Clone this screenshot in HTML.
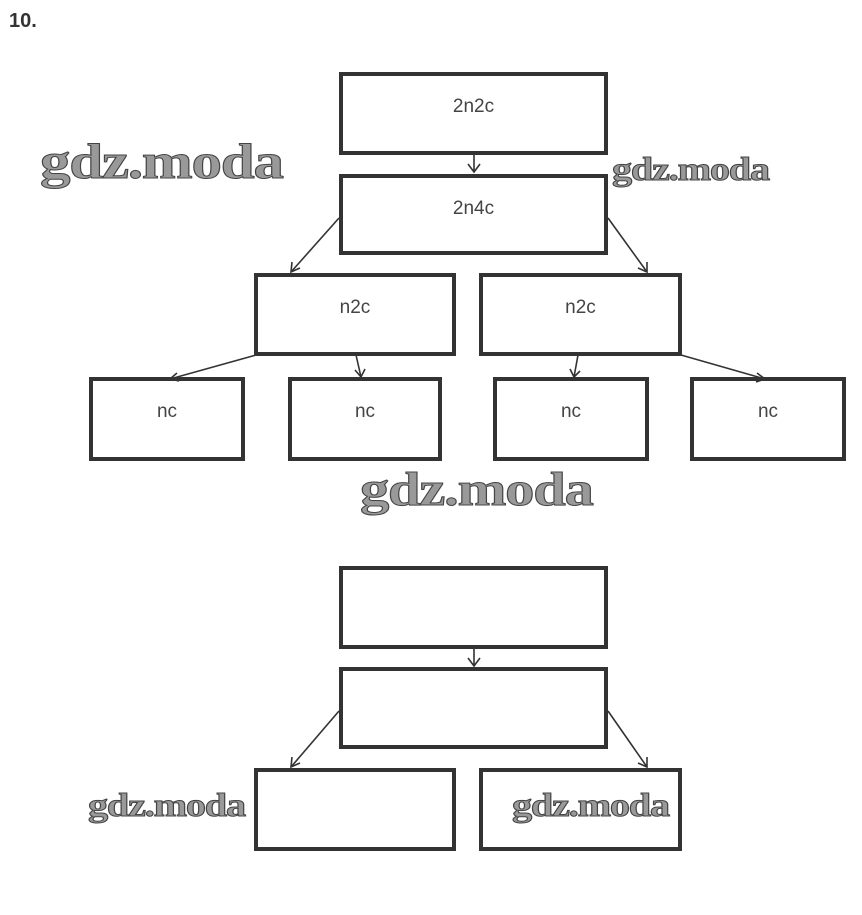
<!DOCTYPE html>
<html><head><meta charset="utf-8"><style>
body{margin:0;width:862px;height:915px;background:#fff;position:relative;overflow:hidden;font-family:"Liberation Sans",sans-serif}
.b{position:absolute;border:4px solid #333;box-sizing:border-box;text-align:center;color:#444;font-size:19px;padding-top:20px}
.w{position:absolute;font-family:"Liberation Serif",serif;font-weight:bold;color:#999;-webkit-text-stroke:1px #444;letter-spacing:-1px;white-space:nowrap;transform-origin:0 0;transform:scaleX(1.22)}
</style></head><body>
<div style="position:absolute;left:9px;top:10px;font-weight:bold;font-size:20px;color:#333">10.</div>
<div class="b" style="left:339px;top:72px;width:269px;height:83px">2n2c</div>
<div class="b" style="left:339px;top:174px;width:269px;height:81px">2n4c</div>
<div class="b" style="left:254px;top:273px;width:202px;height:83px">n2c</div>
<div class="b" style="left:479px;top:273px;width:203px;height:83px">n2c</div>
<div class="b" style="left:89px;top:377px;width:156px;height:84px">nc</div>
<div class="b" style="left:288px;top:377px;width:154px;height:84px">nc</div>
<div class="b" style="left:493px;top:377px;width:156px;height:84px">nc</div>
<div class="b" style="left:690px;top:377px;width:156px;height:84px">nc</div>
<div class="b" style="left:339px;top:566px;width:269px;height:83px"></div>
<div class="b" style="left:339px;top:667px;width:269px;height:82px"></div>
<div class="b" style="left:254px;top:768px;width:202px;height:83px"></div>
<div class="b" style="left:479px;top:768px;width:203px;height:83px"></div>
<svg width="862" height="915" style="position:absolute;left:0;top:0" fill="none" stroke="#333" stroke-width="1.6">
<g>
<path d="M474 155V172M468 164L474 172L480 164"/>
<path d="M339 218L291 272M292 262L291 272L300 268"/>
<path d="M608 218L647 272M638 268L647 272L647 262"/>
<path d="M256 355L170 379M177 373L170 379L179 381"/>
<path d="M356 355L361 377M355 370L361 377L365 369"/>
<path d="M578 355L574 377M570 369L574 377L580 371"/>
<path d="M681 355L765 379M757 373L765 379L756 382"/>
<path d="M474 649V666M468 658L474 666L480 658"/>
<path d="M339 711L291 767M292 757L291 767L300 763"/>
<path d="M608 711L647 767M638 763L647 767L647 757"/>
</g></svg>
<div class="w" style="left:40px;top:132px;font-size:50px">gdz.moda</div>
<div class="w" style="left:612px;top:152px;font-size:33px">gdz.moda</div>
<div class="w" style="left:360px;top:462px;font-size:48px">gdz.moda</div>
<div class="w" style="left:88px;top:788px;font-size:33px">gdz.moda</div>
<div class="w" style="left:512px;top:788px;font-size:33px">gdz.moda</div>
</body></html>
